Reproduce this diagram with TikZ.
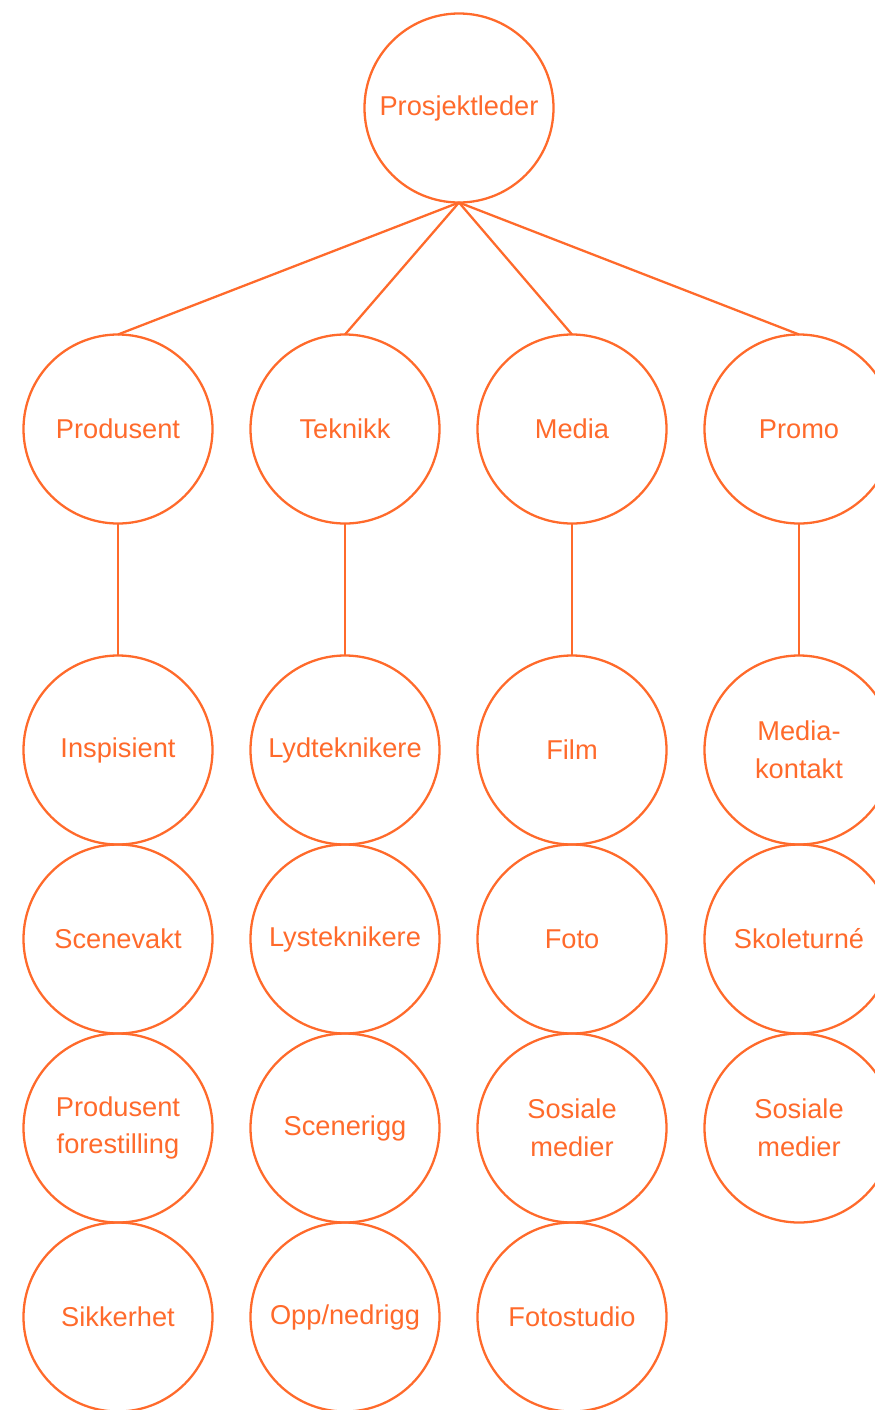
\documentclass[tikz,border=0pt]{standalone}
\usepackage{fontspec}
\setmainfont{Liberation Sans}
\usetikzlibrary{positioning}
\definecolor{orgorange}{HTML}{FF6A2B}

\begin{document}
\begin{tikzpicture}[
        node distance=2.64cm and 0.76cm,
        every node/.style={font=\fontsize{15.5}{21.5}\selectfont, text=orgorange},
        role/.style={draw=orgorange, circle, line width=1.3pt, minimum size=3.78cm, inner sep=0pt, outer sep=0pt, align=center},
        link/.style={draw=orgorange, line width=1.3pt}
    ]
    \useasboundingbox (0,0) rectangle (17.5,-28.2);
    \clip (0,0) rectangle (17.5,-28.2);

    \node[role] (leder) at (9.18,-2.16) {Prosjektleder};

    % avdelinger
    \node[role] (produsent) at (2.36,-8.58) {Produsent};
    \node[role, right=of produsent] (teknikk) {Teknikk};
    \node[role, right=of teknikk] (media) {Media};
    \node[role, right=of media] (promo) {Promo};

    % produsent
    \node[role, below=of produsent] (inspisient) {Inspisient};
    \node[role, below=0cm of inspisient] (scenevakt) {Scenevakt};
    \node[role, below=0cm of scenevakt] (prodforest) {Produsent\\forestilling};
    \node[role, below=0cm of prodforest] (sikkerhet) {Sikkerhet};

    % teknikk
    \node[role, below=of teknikk] (lyd) {Lydteknikere};
    \node[role, below=0cm of lyd] (lys) {Lysteknikere};
    \node[role, below=0cm of lys] (scenerigg) {Scenerigg};
    \node[role, below=0cm of scenerigg] (opprigg) {Opp/nedrigg};

    % media
    \node[role, below=of media] (film) {Film};
    \node[role, below=0cm of film] (foto) {Foto};
    \node[role, below=0cm of foto] (sosmedia) {Sosiale\\medier};
    \node[role, below=0cm of sosmedia] (fotostudio) {Fotostudio};

    % promo
    \node[role, below=of promo] (mediakontakt) {Media-\\kontakt};
    \node[role, below=0cm of mediakontakt] (skoleturne) {Skoleturné};
    \node[role, below=0cm of skoleturne] (sospromo) {Sosiale\\medier};

    \draw[link] (leder.south) -- (produsent.north);
    \draw[link] (leder.south) -- (teknikk.north);
    \draw[link] (leder.south) -- (media.north);
    \draw[link] (leder.south) -- (promo.north);

    \draw[link] (produsent.south) -- (inspisient.north);
    \draw[link] (teknikk.south) -- (lyd.north);
    \draw[link] (media.south) -- (film.north);
    \draw[link] (promo.south) -- (mediakontakt.north);

\end{tikzpicture}
\end{document}
